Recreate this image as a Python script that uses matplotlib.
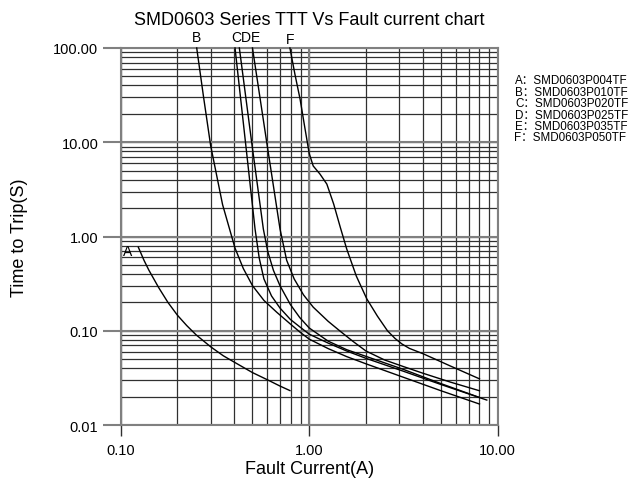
import matplotlib.pyplot as plt
import numpy as np

plt.rcParams['font.family'] = ['Liberation Sans', 'Noto Sans CJK SC', 'DejaVu Sans']

# fault current (A) / time to trip (s)
a_i = [0.124, 0.133, 0.141, 0.159, 0.178, 0.2, 0.224, 0.251, 0.3, 0.35, 0.4, 0.5, 0.6, 0.7, 0.79]
a_t = [0.77, 0.557, 0.44, 0.287, 0.20, 0.146, 0.1135, 0.0906, 0.0676, 0.0543, 0.0465, 0.036, 0.0302, 0.0259, 0.0232]

b_i = [0.253, 0.275, 0.3, 0.347, 0.404, 0.447, 0.5, 0.575, 0.673, 0.794, 0.894, 1.0, 1.26, 1.58, 2.0, 3.16, 5.0, 8.0]
b_t = [100, 30.3, 9.2, 2.18, 0.753, 0.458, 0.301, 0.21, 0.157, 0.118, 0.0966, 0.0815, 0.0647, 0.0532, 0.0446, 0.0321, 0.0231, 0.0167]

c_i = [0.404, 0.459, 0.516, 0.543, 0.575, 0.631, 0.70, 0.794, 0.891, 1.0, 1.26, 1.58, 2.0, 3.16, 5.0, 8.75]
c_t = [100, 10, 1.2, 0.59, 0.355, 0.234, 0.174, 0.132, 0.11, 0.092, 0.074, 0.061, 0.051, 0.0372, 0.0269, 0.0184]

d_i = [0.426, 0.495, 0.571, 0.603, 0.646, 0.70, 0.794, 0.891, 1.0, 1.26, 1.58, 2.0, 3.16, 5.0, 8.0]
d_t = [100, 10, 1.2, 0.69, 0.437, 0.30, 0.19, 0.138, 0.107, 0.0776, 0.063, 0.0535, 0.0389, 0.0275, 0.0196]

e_i = [0.50, 0.595, 0.70, 0.759, 0.832, 0.933, 1.05, 1.26, 1.45, 1.70, 2.0, 2.51, 3.16, 4.0, 5.62, 8.0]
e_t = [100, 10, 1.2, 0.56, 0.355, 0.24, 0.178, 0.126, 0.10, 0.0776, 0.061, 0.049, 0.0417, 0.0355, 0.0285, 0.0231]

f_i = [0.79, 0.84, 0.894, 0.95, 1.0, 1.05, 1.14, 1.24, 1.349, 1.462, 1.58, 1.778, 2.02, 2.3, 2.6, 2.85, 3.1, 3.4, 4.03, 5.62, 8.0]
f_t = [100, 52.5, 28.8, 13.9, 7.6, 5.6, 4.6, 3.6, 2.2, 1.25, 0.74, 0.38, 0.218, 0.143, 0.1, 0.083, 0.0725, 0.065, 0.0569, 0.0422, 0.0309]

curves = [(a_i, a_t), (b_i, b_t), (c_i, c_t), (d_i, d_t), (e_i, e_t), (f_i, f_t)]

letters = ['A', 'B', 'C', 'D', 'E', 'F']
parts = ['SMD0603P004TF', 'SMD0603P010TF', 'SMD0603P020TF',
         'SMD0603P025TF', 'SMD0603P035TF', 'SMD0603P050TF']

x_ticks = [0.1, 1, 10]
x_labels = ['0.10', '1.00', '10.00']
y_ticks = [0.01, 0.1, 1, 10, 100]
y_labels = ['0.01', '0.10', '1.00', '10.00', '100.00']

fig = plt.figure(figsize=(6.33, 4.85), dpi=100)
ax = fig.add_axes([0.1907, 0.1216, 0.5956, 0.7774])
ax.set_xscale('log')
ax.set_yscale('log')
ax.set_xlim(0.1, 10)
ax.set_ylim(0.01, 100)

# grid at every 1..9 of each decade
for dec in [0.1, 1]:
    for k in range(1, 10):
        ax.axvline(dec * k, color='#303030', lw=0.9, zorder=1)
for dec in [0.01, 0.1, 1, 10]:
    for k in range(1, 10):
        ax.axhline(dec * k, color='#303030', lw=0.9, zorder=1)
for v in x_ticks:
    ax.axvline(v, color='#808080', lw=1.5, zorder=1)
for v in y_ticks:
    ax.axhline(v, color='#808080', lw=1.5, zorder=1)

for xs, ys in curves:
    ax.plot(xs, ys, color='black', lw=1.0, zorder=3, clip_on=False)

ax.set_xticks(x_ticks)
ax.set_xticklabels(x_labels)
ax.set_yticks(y_ticks)
ax.set_yticklabels(y_labels)
ax.minorticks_off()
ax.tick_params(axis='y', length=13, width=1.5, color='#808080', pad=3, labelsize=10.5)
ax.tick_params(axis='x', length=8, width=1.0, color='#303030', pad=5, labelsize=10.5)
for s in ax.spines.values():
    s.set_color('#808080')
    s.set_linewidth(1.5)

# curve letters
ax.text(0.109, 0.70, 'A', ha='center', va='center', fontsize=10)
ax.text(0.251, 131, 'B', ha='center', va='center', fontsize=10, clip_on=False)
ax.text(0.459, 131, 'CDE', ha='center', va='center', fontsize=10, clip_on=False)
ax.text(0.79, 125, 'F', ha='center', va='center', fontsize=10, clip_on=False)

ax.set_title('SMD0603 Series TTT Vs Fault current chart', fontsize=13, pad=17.5)
ax.set_xlabel('Fault Current(A)', fontsize=13, labelpad=2)
ax.set_ylabel('Time to Trip(S)', fontsize=13, labelpad=18)

legend_y = [0.833, 0.808, 0.785, 0.761, 0.739, 0.715]
legend_x = [0.814, 0.813, 0.814, 0.813, 0.813, 0.812]
for lt, p, lx, ly in zip(letters, parts, legend_x, legend_y):
    fig.text(lx, ly, lt + '：' + p, fontsize=8.4, va='center')

fig.savefig('out.png', dpi=100)
